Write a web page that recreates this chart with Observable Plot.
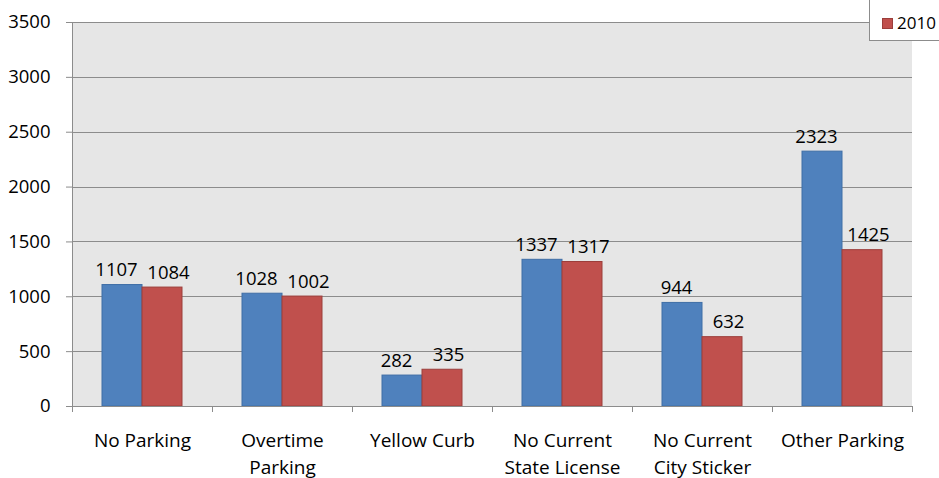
<!DOCTYPE html>
<html>
<head>
<meta charset="utf-8">
<script src="https://cdn.jsdelivr.net/npm/d3@7"></script>
<script src="https://cdn.jsdelivr.net/npm/@observablehq/plot@0.6"></script>
<style>
  body { margin: 0; background: #fff; }
  #wrap { position: relative; width: 939px; height: 478px; overflow: hidden; font-family: "Open Sans", sans-serif; }
  #legend { position: absolute; left: 869px; top: -2px; width: 90px; height: 43px; background: #fff; border: 1px solid #8c8c8c; box-sizing: border-box; }
  #legend .sw { position: absolute; left: 12px; top: 19px; width: 11px; height: 11px; background: #c0504d; border: 1px solid #9c3e3b; box-sizing: border-box; }
  #legend .lb { position: absolute; left: 27px; top: 12px; font-size: 17px; line-height: 24px; color: #000; }
</style>
</head>
<body>
<div id="wrap"></div>
<script>
const categories = ["No Parking", "Overtime Parking", "Yellow Curb", "No Current State License", "No Current City Sticker", "Other Parking"];
const tickLabels = ["No Parking", "Overtime\nParking", "Yellow Curb", "No Current\nState License", "No Current\nCity Sticker", "Other Parking"];
const years = ["2009", "2010"];
const values2009 = [1107, 1028, 282, 1337, 944, 2323];
const values2010 = [1084, 1002, 335, 1317, 632, 1425];
const yTicks = [0, 500, 1000, 1500, 2000, 2500, 3000, 3500];

const data = categories.flatMap((c, i) => [
  {category: c, year: "2009", value: values2009[i]},
  {category: c, year: "2010", value: values2010[i]}
]);
const d2009 = data.filter(d => d.year === "2009");
const d2010 = data.filter(d => d.year === "2010");

const grid = "#8c8c8c";
const plot = Plot.plot({
  width: 939,
  height: 478,
  marginLeft: 72,
  marginRight: 27,
  marginTop: 22,
  marginBottom: 72,
  style: {fontFamily: "Open Sans, sans-serif", fontSize: "18px", color: "#000", background: "transparent"},
  fx: {domain: categories, padding: 0, label: null, axis: null},
  x: {domain: years, paddingInner: 0, paddingOuter: 0.75, axis: null},
  y: {domain: [0, 3500], label: null, axis: null},
  marks: [
    Plot.gridY(yTicks, {stroke: grid, strokeOpacity: 1, shapeRendering: "crispEdges"}),
    Plot.axisY(yTicks, {tickSize: 6, tickPadding: 16, stroke: grid, strokeOpacity: 1, label: null, fontSize: 18.5, tickFormat: d => String(d)}),
    Plot.axisFx({anchor: "bottom", tickSize: 0, tickPadding: 22, tickFormat: c => tickLabels[categories.indexOf(c)], lineHeight: 1.4, label: null, fontSize: 19}),
    Plot.barY(d2009, {fx: "category", x: "year", y: "value", fill: "#4f81bd", stroke: "#3f6ea6", strokeWidth: 1}),
    Plot.barY(d2010, {fx: "category", x: "year", y: "value", fill: "#c0504d", stroke: "#9c3e3b", strokeWidth: 1}),
    Plot.text(d2009, {fx: "category", x: "year", y: "value", text: d => String(d.value), lineAnchor: "bottom", dy: -9, dx: -6, fontSize: 18.5, fill: "#000"}),
    Plot.text(d2010, {fx: "category", x: "year", y: "value", text: d => String(d.value), lineAnchor: "bottom", dy: -9, dx: 6, fontSize: 18.5, fill: "#000"}),
    Plot.ruleY([0], {stroke: grid, strokeOpacity: 1, shapeRendering: "crispEdges"})
  ]
});

// plot background, axis line and category boundary ticks, positioned from the plot's own scales
const fx = plot.scale("fx"), y = plot.scale("y");
const fxs = d3.scaleBand(fx.domain, fx.range).paddingInner(0).paddingOuter(0);
const ys = d3.scaleLinear(y.domain, y.range);
const svg = d3.select(plot);
const edges = categories.map(c => fxs(c)).concat([fxs(categories[categories.length - 1]) + fxs.bandwidth()]);
svg.insert("rect", ":first-child")
  .attr("x", edges[0]).attr("y", ys(3500))
  .attr("width", edges[edges.length - 1] - edges[0]).attr("height", ys(0) - ys(3500))
  .attr("fill", "#e6e6e6");
const g = svg.append("g").attr("stroke", grid).attr("stroke-width", 1).attr("shape-rendering", "crispEdges");
g.append("line").attr("x1", edges[0] + 0.5).attr("x2", edges[0] + 0.5).attr("y1", ys(3500)).attr("y2", ys(0));
edges.forEach(x => g.append("line").attr("x1", Math.round(x) + 0.5).attr("x2", Math.round(x) + 0.5).attr("y1", ys(0)).attr("y2", ys(0) + 6));

const wrap = document.getElementById("wrap");
wrap.appendChild(plot);
const legend = document.createElement("div");
legend.id = "legend";
legend.innerHTML = '<div class="sw"></div><div class="lb">2010</div>';
wrap.appendChild(legend);
</script>
</body>
</html>
